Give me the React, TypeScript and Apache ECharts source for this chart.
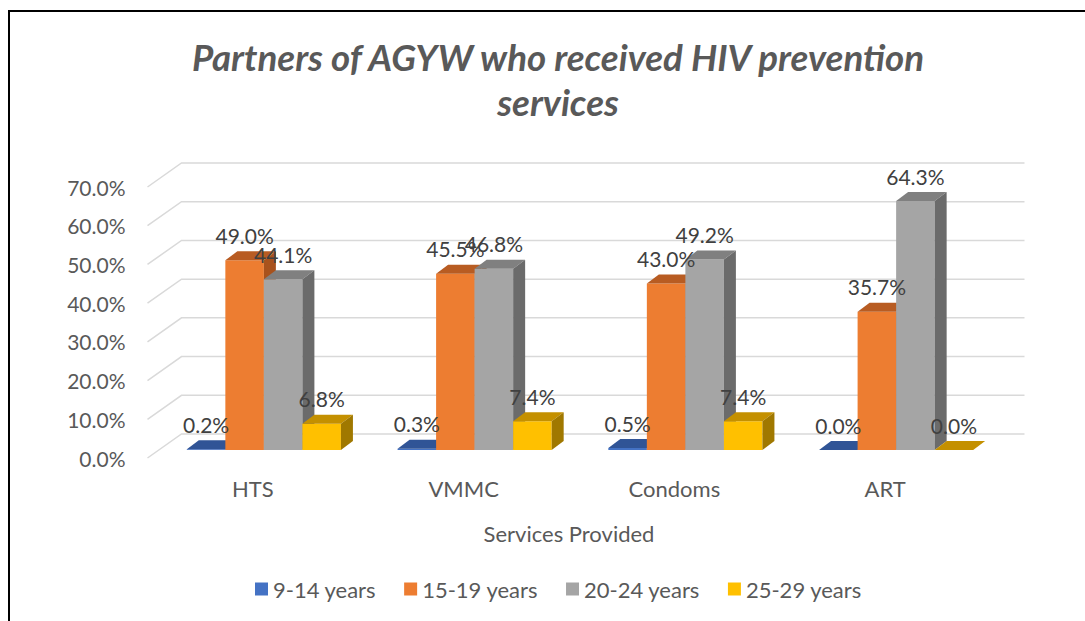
import React, { useEffect, useRef } from 'react';
import * as echarts from 'echarts';

const categories = ['HTS', 'VMMC', 'Condoms', 'ART'];
const ageGroups = ['9-14 years', '15-19 years', '20-24 years', '25-29 years'];
const values9to14 = [0.2, 0.3, 0.5, 0.0];
const values15to19 = [49.0, 45.5, 43.0, 35.7];
const values20to24 = [44.1, 46.8, 49.2, 64.3];
const values25to29 = [6.8, 7.4, 7.4, 0.0];
const yTicks = [0, 10, 20, 30, 40, 50, 60, 70];

const seriesValues = [values9to14, values15to19, values20to24, values25to29];

const faceColors = [
  { front: '#4472C4', top: '#305496', side: '#284780' },
  { front: '#ED7D31', top: '#B85C22', side: '#A8521D' },
  { front: '#A5A5A5', top: '#808080', side: '#6B6B6B' },
  { front: '#FFC000', top: '#C49000', side: '#A07800' },
];

const FONT = 'Lato';
const TEXT_COLOR = '#595959';
const LABEL_COLOR = '#404040';

// 3D projection offsets (pixels)
const BAR_DX = 11;
const BAR_DY = -8;
const DEPTH_DX = 12;
const DEPTH_DY = -9;
const WALL_DX = 34;
const WALL_DY = -24;
const BAR_FRAC = 0.1828;

function barGeom(api: any, seriesIdx: number) {
  const cat = api.value(0);
  const val = api.value(1);
  const base = api.coord([cat, 0]);
  const top = api.coord([cat, val]);
  const band = api.size([1, 0])[0];
  const bw = band * BAR_FRAC;
  const x0 = base[0] - 2 * bw + seriesIdx * bw + BAR_DX;
  const x1 = x0 + bw;
  const yb = base[1] + BAR_DY;
  const yt = top[1] + BAR_DY;
  return { x0, x1, yb, yt, val };
}

export default function App() {
  const ref = useRef<HTMLDivElement>(null);

  useEffect(() => {
    if (!ref.current) return;
    const chart = echarts.init(ref.current, undefined, { renderer: 'svg' });

    const barSeries = seriesValues.map((vals, si) => ({
      type: 'custom',
      name: ageGroups[si],
      z: 3,
      itemStyle: { color: faceColors[si].front },
      data: vals.map((v, ci) => [ci, v]),
      encode: { x: 0, y: 1 },
      renderItem: (params: any, api: any) => {
        const g = barGeom(api, si);
        const c = faceColors[si];
        const { x0, x1, yb, yt } = g;
        return {
          type: 'group',
          children: [
            {
              type: 'polygon',
              shape: { points: [[x0, yb], [x1, yb], [x1, yt], [x0, yt]] },
              style: { fill: c.front },
            },
            {
              type: 'polygon',
              shape: {
                points: [
                  [x0, yt],
                  [x1, yt],
                  [x1 + DEPTH_DX, yt + DEPTH_DY],
                  [x0 + DEPTH_DX, yt + DEPTH_DY],
                ],
              },
              style: { fill: c.top },
            },
            {
              type: 'polygon',
              shape: {
                points: [
                  [x1, yb],
                  [x1 + DEPTH_DX, yb + DEPTH_DY],
                  [x1 + DEPTH_DX, yt + DEPTH_DY],
                  [x1, yt],
                ],
              },
              style: { fill: c.side },
            },
          ],
        };
      },
    }));

    const labelSeries = seriesValues.map((vals, si) => ({
      type: 'custom',
      name: 'label-' + si,
      z: 10,
      silent: true,
      data: vals.map((v, ci) => [ci, v]),
      encode: { x: 0, y: 1 },
      renderItem: (params: any, api: any) => {
        const g = barGeom(api, si);
        return {
          type: 'text',
          x: (g.x0 + g.x1) / 2,
          y: g.yt - 25,
          style: {
            text: g.val.toFixed(1) + '%',
            fill: LABEL_COLOR,
            fontSize: 21,
            fontFamily: FONT,
            align: 'center',
            verticalAlign: 'middle',
          },
        };
      },
    }));

    const gridSeries = {
      type: 'custom',
      name: 'gridlines',
      z: 1,
      silent: true,
      data: yTicks.map((t) => [0, t]),
      encode: { x: 0, y: 1 },
      renderItem: (params: any, api: any) => {
        const cs = params.coordSys;
        const y = api.coord([0, api.value(1)])[1];
        const xl = cs.x;
        const xr = cs.x + cs.width;
        return {
          type: 'polyline',
          shape: {
            points: [
              [xl, y],
              [xl + WALL_DX, y + WALL_DY],
              [xr + WALL_DX, y + WALL_DY],
            ],
          },
          style: { stroke: '#D9D9D9', lineWidth: 1.5, fill: 'none' },
        };
      },
    };

    chart.setOption({
      animation: false,
      backgroundColor: '#ffffff',
      textStyle: { fontFamily: FONT },
      title: {
        text: 'Partners of AGYW who received HIV prevention\nservices',
        left: 553,
        textAlign: 'center',
        top: 29,
        textStyle: {
          fontFamily: FONT,
          fontSize: 36.7,
          fontWeight: 'bold',
          fontStyle: 'italic',
          color: TEXT_COLOR,
          lineHeight: 45,
        },
      },
      legend: {
        data: ageGroups,
        top: 573,
        left: 250,
        icon: 'rect',
        itemWidth: 13,
        itemHeight: 13,
        itemGap: 28,
        textStyle: { fontFamily: FONT, fontSize: 22, color: TEXT_COLOR },
      },
      grid: { left: 147.5, right: 94.5, top: 187, bottom: 163, containLabel: false },
      xAxis: {
        type: 'category',
        data: categories,
        axisLine: { show: false },
        axisTick: { show: false },
        splitLine: { show: false },
        axisLabel: { fontFamily: FONT, fontSize: 22, color: TEXT_COLOR, margin: 19 },
        name: 'Services Provided',
        nameLocation: 'middle',
        nameGap: 64,
        nameTextStyle: { fontFamily: FONT, fontSize: 22, color: TEXT_COLOR },
      },
      yAxis: {
        type: 'value',
        min: 0,
        max: 70,
        interval: 10,
        axisLine: { show: false },
        axisTick: { show: false },
        splitLine: { show: false },
        axisLabel: {
          fontFamily: FONT,
          fontSize: 21,
          color: TEXT_COLOR,
          margin: 22,
          formatter: (v: number) => v.toFixed(1) + '%',
        },
      },
      graphic: [
        {
          type: 'rect',
          shape: { x: 9, y: 11, width: 1200, height: 800 },
          style: { fill: 'none', stroke: '#000000', lineWidth: 2 },
          silent: true,
          z: 100,
        },
      ],
      series: [gridSeries, ...barSeries, ...labelSeries],
    });

    return () => chart.dispose();
  }, []);

  return (
    <div
      ref={ref}
      style={{ position: 'fixed', left: 0, top: 0, width: 1085, height: 621 }}
    />
  );
}
